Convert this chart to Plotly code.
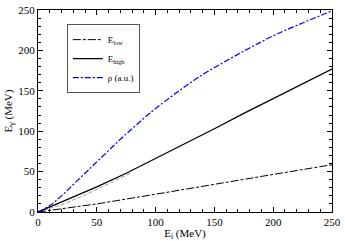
import plotly.graph_objects as go

# data
ei_low = [0, 50, 100, 150, 200, 250]
e_low = [0, 10, 22, 34.5, 46.5, 58.5]

ei_high = [0, 25, 50, 75, 100, 125, 150, 175, 200, 225, 250]
e_high = [0, 15, 31, 48, 66, 85, 103, 122, 140, 158, 177]

ei_aux = [0, 20, 40, 60, 80]
e_aux = [0, 9, 21, 35, 49]

ei_rho = [0, 10, 20, 30, 40, 50, 60, 70, 80, 90, 100, 120, 140, 160, 180, 200, 225, 250]
rho = [0, 8, 20, 34, 48, 62, 76, 90, 103, 116, 128, 150, 170, 187, 203, 218, 234, 249]

font = "Liberation Serif"

fig = go.Figure()
fig.add_trace(go.Scatter(x=ei_aux, y=e_aux, mode="lines", showlegend=False,
                         line=dict(color="#9a9a9a", width=1, dash="4px,2px")))
fig.add_trace(go.Scatter(x=ei_low, y=e_low, mode="lines", name="E<sub>low</sub>",
                         line=dict(color="black", width=1, dash="8px,2px,3px,2px")))
fig.add_trace(go.Scatter(x=ei_high, y=e_high, mode="lines", name="E<sub>high</sub>",
                         line=dict(color="black", width=1.3)))
fig.add_trace(go.Scatter(x=ei_rho, y=rho, mode="lines", name="ρ (a.u.)", line_shape="spline",
                         line=dict(color="#0000ff", width=1.2, dash="6px,2px,2px,2px")))

axis_common = dict(showline=True, linecolor="black", linewidth=1, mirror="allticks",
                   ticks="inside", ticklen=5, tickcolor="black", showgrid=False, zeroline=False,
                   ticklabeloverflow="allow",
                   tickfont=dict(family=font, size=11, color="black"),
                   minor=dict(ticks="inside", ticklen=3, tickcolor="black", dtick=10))

fig.update_xaxes(range=[0, 250], dtick=50, title=dict(text="E<sub>i</sub> (MeV)", standoff=1,
                 font=dict(family=font, size=11, color="black")), **axis_common)
fig.update_yaxes(range=[0, 250], dtick=50, title=dict(text="E<sub>γ</sub> (MeV)", standoff=3,
                 font=dict(family=font, size=11, color="black")), **axis_common)

fig.update_layout(
    width=345, height=241,
    margin=dict(l=38, r=10, t=4, b=29),
    paper_bgcolor="white", plot_bgcolor="white",
    font=dict(family=font, color="black"),
    legend=dict(x=0.098, y=0.93, xanchor="left", yanchor="top",
                bgcolor="white", bordercolor="#555555", borderwidth=1,
                font=dict(family=font, size=9, color="black"),
                itemwidth=30, tracegroupgap=0),
)

fig.write_html("out.html", config={"displayModeBar": False},
               post_script="document.body.style.margin='0';")
